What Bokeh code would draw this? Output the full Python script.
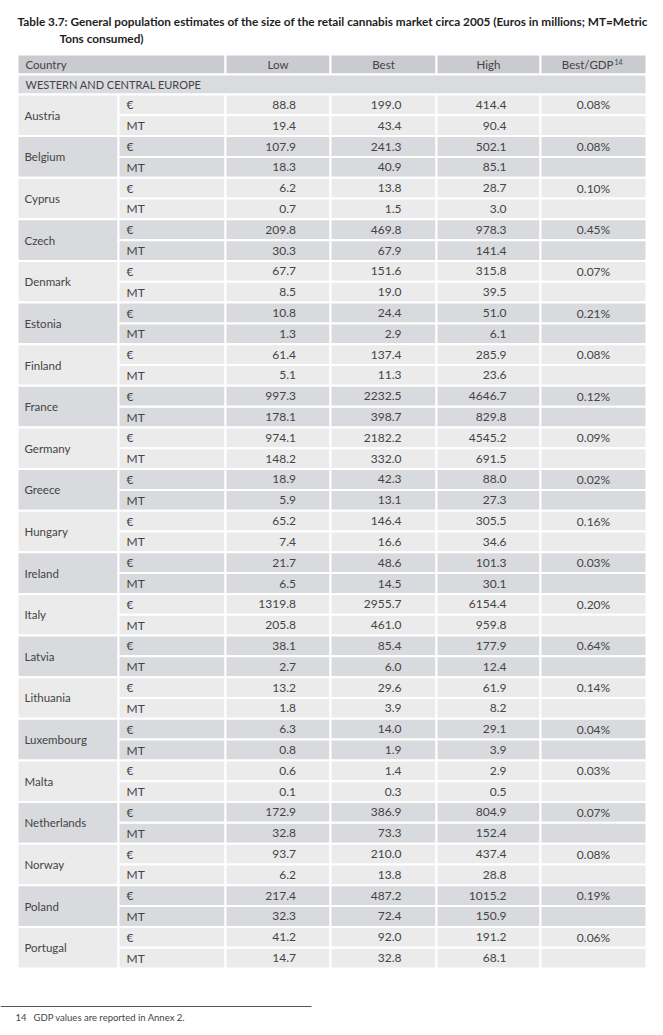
from bokeh.plotting import figure
from bokeh.models import Range1d
from bokeh.core.properties import value
from bokeh.embed import file_html
from bokeh.resources import INLINE

# ---------------- data ----------------
title_line1 = "Table 3.7: General population estimates of the size of the retail cannabis market circa 2005 (Euros in millions; MT=Metric"
title_line2 = "Tons consumed)"
section = "WESTERN AND CENTRAL EUROPE"
headers = ["Low", "Best", "High"]
footnote_num = "14"
footnote_text = "GDP values are reported in Annex 2."

countries = ["Austria", "Belgium", "Cyprus", "Czech", "Denmark", "Estonia", "Finland",
             "France", "Germany", "Greece", "Hungary", "Ireland", "Italy", "Latvia",
             "Lithuania", "Luxembourg", "Malta", "Netherlands", "Norway", "Poland", "Portugal"]

eur_low = [88.8, 107.9, 6.2, 209.8, 67.7, 10.8, 61.4, 997.3, 974.1, 18.9, 65.2, 21.7,
           1319.8, 38.1, 13.2, 6.3, 0.6, 172.9, 93.7, 217.4, 41.2]
eur_best = [199.0, 241.3, 13.8, 469.8, 151.6, 24.4, 137.4, 2232.5, 2182.2, 42.3, 146.4, 48.6,
            2955.7, 85.4, 29.6, 14.0, 1.4, 386.9, 210.0, 487.2, 92.0]
eur_high = [414.4, 502.1, 28.7, 978.3, 315.8, 51.0, 285.9, 4646.7, 4545.2, 88.0, 305.5, 101.3,
            6154.4, 177.9, 61.9, 29.1, 2.9, 804.9, 437.4, 1015.2, 191.2]
gdp_pct = [0.08, 0.08, 0.10, 0.45, 0.07, 0.21, 0.08, 0.12, 0.09, 0.02, 0.16, 0.03,
           0.20, 0.64, 0.14, 0.04, 0.03, 0.07, 0.08, 0.19, 0.06]
mt_low = [19.4, 18.3, 0.7, 30.3, 8.5, 1.3, 5.1, 178.1, 148.2, 5.9, 7.4, 6.5,
          205.8, 2.7, 1.8, 0.8, 0.1, 32.8, 6.2, 32.3, 14.7]
mt_best = [43.4, 40.9, 1.5, 67.9, 19.0, 2.9, 11.3, 398.7, 332.0, 13.1, 16.6, 14.5,
           461.0, 6.0, 3.9, 1.9, 0.3, 73.3, 13.8, 72.4, 32.8]
mt_high = [90.4, 85.1, 3.0, 141.4, 39.5, 6.1, 23.6, 829.8, 691.5, 27.3, 34.6, 30.1,
           959.8, 12.4, 8.2, 3.9, 0.5, 152.4, 28.8, 150.9, 68.1]

# ---------------- layout ----------------
FONT = value("Lato")
TXT = "#444444"
HEADER_FILL = "#c9cbce"
SECTION_FILL = "#dadbde"
LIGHT = "#ebebeb"
DARK = "#d9dadd"

col_edges = [17, 118, 225, 330, 436, 540, 646]   # country | unit | low | best | high | gdp
head_top, head_bot = 54, 74
sec_bot = 94
table_bot = 968
n = len(countries)
rh = (table_bot - sec_bot) / (2 * n)

W, H = 655, 1027
p = figure(width=W, height=H, x_range=Range1d(0, W), y_range=Range1d(H, 0),
           output_backend="svg", toolbar_location=None, min_border=0)
p.axis.visible = False
p.grid.visible = False
p.outline_line_color = None
p.background_fill_color = "white"

L, R, T, B, C = [], [], [], [], []

def cell(x0, x1, y0, y1, c):
    L.append(x0); R.append(x1); T.append(y0); B.append(y1); C.append(c)

# header
cell(col_edges[0], col_edges[2], head_top, head_bot, HEADER_FILL)
for i in range(2, 6):
    cell(col_edges[i], col_edges[i + 1], head_top, head_bot, HEADER_FILL)
# section
cell(col_edges[0], col_edges[6], head_bot, sec_bot, SECTION_FILL)
# body
for k in range(n):
    y0 = sec_bot + 2 * k * rh
    fill = LIGHT if k % 2 == 0 else DARK
    cell(col_edges[0], col_edges[1], y0, y0 + 2 * rh, fill)
    for s in range(2):
        for i in range(1, 6):
            cell(col_edges[i], col_edges[i + 1], y0 + s * rh, y0 + (s + 1) * rh, fill)

p.quad(left=L, right=R, top=T, bottom=B, fill_color=C, line_color="white", line_width=2)

def txt(xs, ys, ts, align="left", size="12px", color=TXT, style="normal"):
    p.text(x=xs, y=ys, text=ts, text_align=align, text_baseline="middle",
           text_font=FONT, text_font_size=size, text_color=color, text_font_style=style)

# title
txt([17], [21], [title_line1], size="11.8px", color="#1e1e1e", style="bold")
txt([59], [38], [title_line2], size="11.8px", color="#1e1e1e", style="bold")

# header texts
hy = (head_top + head_bot) / 2
centers = [(col_edges[i] + col_edges[i + 1]) / 2 for i in range(len(col_edges) - 1)]
txt([25], [hy], ["Country"], size="11.5px")
txt(centers[2:5], [hy] * 3, headers, align="center", size="11.5px")
txt([613], [hy], ["Best/GDP"], align="right", size="11.5px")
txt([614], [hy - 3], [footnote_num], size="7px")
txt([25], [(head_bot + sec_bot) / 2], [section], size="11px")

# body texts
cx, cy, ux, uy, ut = [], [], [], [], []
nums = {2: ([], [], []), 3: ([], [], []), 4: ([], [], [])}
gx, gy, gt = [], [], []
for k in range(n):
    y0 = sec_bot + 2 * k * rh
    cx.append(24); cy.append(y0 + rh)
    for s, unit in enumerate(["€", "MT"]):
        ym = y0 + (s + 0.5) * rh
        ux.append(126); uy.append(ym); ut.append(unit)
        vals = [eur_low[k], eur_best[k], eur_high[k]] if s == 0 else [mt_low[k], mt_best[k], mt_high[k]]
        for j, v in zip((2, 3, 4), vals):
            nums[j][0].append(centers[j] + 18)
            nums[j][1].append(ym)
            nums[j][2].append(f"{v:.1f}")
    gx.append(centers[5]); gy.append(y0 + 0.5 * rh); gt.append(f"{gdp_pct[k]:.2f}%")

txt(cx, cy, countries, size="11.5px")
txt(ux, uy, ut)
for j in (2, 3, 4):
    txt(nums[j][0], nums[j][1], nums[j][2], align="right")
txt(gx, gy, gt, align="center")

# footnote
p.line([0, 311], [1006, 1006], line_color="#555555", line_width=1)
txt([15], [1017], [footnote_num], size="9.5px")
txt([33], [1017], [footnote_text], size="9.5px")

open("out.html", "w").write(file_html(p, INLINE))
